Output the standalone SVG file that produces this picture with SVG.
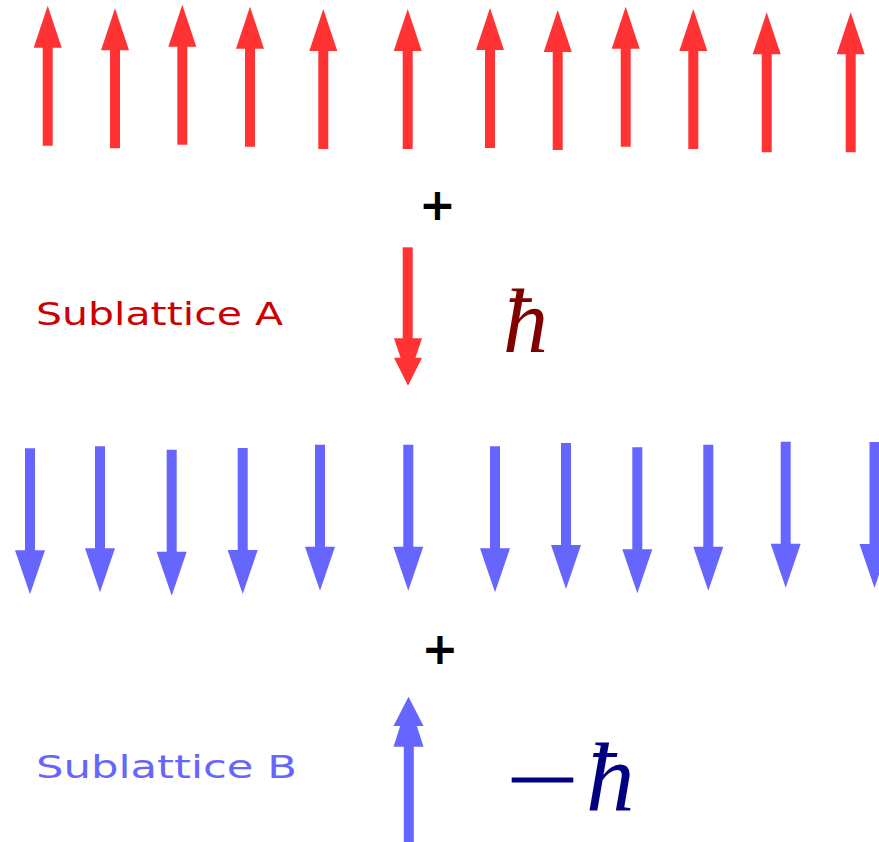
<svg xmlns="http://www.w3.org/2000/svg" width="879" height="842" viewBox="0 0 879 842">
<style>
.red{fill:#ff3333}
.blue{fill:#6666ff}
.lbl{font-family:"DejaVu Sans","Open Sans",sans-serif;font-size:32px}
.hb{font-family:"Liberation Serif","DejaVu Serif",serif;font-style:italic}
.plus{font-family:"DejaVu Sans","Liberation Sans",sans-serif;font-weight:bold;font-size:44px;fill:#000}
</style>
<defs>
<path id="up" d="M0,0 L14,42 L5,42 L5,140 L-5,140 L-5,42 L-14,42 Z"/>
<path id="down" d="M0,0 L-15,-44 L-5,-44 L-5,-146 L5,-146 L5,-44 L15,-44 Z"/>
</defs>
<rect width="879" height="842" fill="#fff"/>
<g id="sublatticeA-spins" class="red">
<use href="#up" x="47.7" y="5.7"/>
<use href="#up" x="115" y="8.3"/>
<use href="#up" x="182.3" y="4.7"/>
<use href="#up" x="250" y="6.7"/>
<use href="#up" x="323.3" y="9"/>
<use href="#up" x="407.7" y="9"/>
<use href="#up" x="490" y="8"/>
<use href="#up" x="557.7" y="10"/>
<use href="#up" x="625.7" y="6.7"/>
<use href="#up" x="693.3" y="9"/>
<use href="#up" x="766.7" y="12.3"/>
<use href="#up" x="850.7" y="12.3"/>
</g>
<g id="plusA"><text class="plus" x="437.5" y="220" text-anchor="middle">+</text></g>
<g id="flipA" class="red">
<rect x="402.7" y="247.3" width="10" height="95"/>
<polygon points="394,338.3 422,338.3 408,380"/>
<polygon points="394,357.7 422,357.7 408,385.7"/>
</g>
<g id="labelA"><text class="lbl" x="36" y="325" fill="#cc0000" textLength="247" lengthAdjust="spacingAndGlyphs">Sublattice A</text></g>
<g id="hbarA"><text class="hb" x="503" y="352" font-size="90" fill="#800000">ħ</text></g>
<g id="sublatticeB-spins" class="blue">
<use href="#down" x="30" y="594.3"/>
<use href="#down" x="100" y="592.3"/>
<use href="#down" x="171.7" y="595.7"/>
<use href="#down" x="242.7" y="594"/>
<use href="#down" x="320" y="590.7"/>
<use href="#down" x="408.3" y="590.7"/>
<use href="#down" x="495" y="592.3"/>
<use href="#down" x="566" y="589"/>
<use href="#down" x="637.3" y="593.3"/>
<use href="#down" x="708.3" y="590.7"/>
<use href="#down" x="785.7" y="587.7"/>
<use href="#down" x="874.5" y="588"/>
</g>
<g id="plusB"><text class="plus" x="440" y="664" text-anchor="middle">+</text></g>
<g id="flipB" class="blue">
<rect x="403.8" y="740" width="10" height="102"/>
<polygon points="393.5,746.7 423.5,746.7 408.5,700"/>
<polygon points="393.5,726 423.5,726 408.5,696.7"/>
</g>
<g id="labelB"><text class="lbl" x="36" y="778.3" fill="#6666ff" textLength="261" lengthAdjust="spacingAndGlyphs">Sublattice B</text></g>
<g id="hbarB">
<rect x="511.7" y="777.5" width="61.6" height="5" fill="#000080"/>
<text class="hb" x="586" y="810" font-size="97" fill="#000080">ħ</text>
</g>
</svg>
